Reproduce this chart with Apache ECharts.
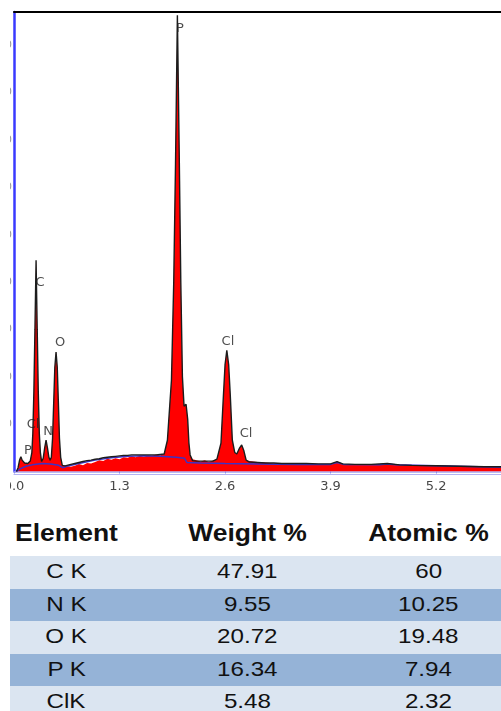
<!DOCTYPE html>
<html>
<head>
<meta charset="utf-8">
<script src="https://cdn.jsdelivr.net/npm/echarts@6/dist/echarts.min.js"></script>
<style>
  html, body { margin: 0; padding: 0; background: #fff; }
  body { width: 501px; height: 711px; position: relative; overflow: hidden; }
  #chart { position: absolute; left: 0; top: 0; width: 501px; height: 500px; clip-path: inset(0 0 0 10px); }
  .cell { position: absolute; white-space: nowrap; font-family: "Liberation Sans", Arial, sans-serif; color: #111; }
  .cell span { display: inline-block; }
  .band { position: absolute; left: 10px; width: 491px; }
</style>
</head>
<body>
<div id="chart"></div>
<div id="table"></div>
<script>
// EDS spectrum, energy in keV, intensity in counts
const energy = [0.03, 0.05, 0.07, 0.085, 0.10, 0.13, 0.17, 0.20,
  0.22, 0.232, 0.245, 0.258, 0.272, 0.286, 0.299, 0.312, 0.325, 0.34,
  0.36, 0.378, 0.395, 0.412, 0.43, 0.445,
  0.46, 0.475, 0.49, 0.503, 0.518, 0.533, 0.546, 0.56, 0.575, 0.595, 0.63,
  0.70, 0.75, 0.80, 0.85, 0.90, 0.95, 1.00, 1.05, 1.10, 1.15, 1.20, 1.25, 1.30,
  1.35, 1.40, 1.45, 1.50, 1.55, 1.60, 1.65, 1.70, 1.75, 1.80, 1.85,
  1.89, 1.94, 1.968, 1.99, 2.013, 2.035, 2.055, 2.075, 2.095, 2.12, 2.14, 2.155, 2.17,
  2.20, 2.25, 2.30, 2.35, 2.40, 2.45,
  2.50, 2.55, 2.58, 2.60, 2.622, 2.645, 2.665, 2.69, 2.72, 2.745, 2.78, 2.805, 2.83, 2.86,
  2.90, 3.00, 3.10, 3.20, 3.30, 3.45, 3.60, 3.75, 3.90, 3.98, 4.05, 4.20, 4.40, 4.60,
  4.75, 4.90, 5.20, 5.50, 5.80, 6.00];

// measured spectrum (red fill)
const spectrum = [0, 8, 25, 31, 24, 18, 17, 22,
  40, 80, 170, 300, 446, 300, 170, 80, 40, 21,
  28, 50, 66, 50, 30, 24,
  30, 70, 150, 220, 252, 220, 150, 70, 30, 13, 12,
  10, 12, 16, 13, 18, 17, 20, 24, 22, 27, 25, 28, 26,
  30, 29, 32, 30, 33, 31, 34, 33, 36, 34, 37,
  66, 193, 400, 650, 963, 680, 400, 200, 138, 142, 110, 60, 35,
  26, 24, 21, 24, 20, 23,
  26, 60, 160, 225, 256, 225, 160, 66, 40, 37, 50, 56, 45, 24,
  22, 20, 19, 17, 18, 16, 17, 16, 16, 19, 16, 15, 14, 16,
  14, 13, 12, 11, 10, 10];

// fitted envelope (black outline)
const fitted = [0, 8, 25, 31, 24, 18, 17, 22,
  40, 80, 170, 300, 446, 300, 170, 80, 40, 21,
  28, 50, 66, 50, 30, 24,
  30, 70, 150, 220, 252, 220, 150, 70, 30, 13, 12,
  15, 17, 19, 21, 23, 24, 26, 27, 29, 30, 31, 32, 33,
  34, 34, 35, 35, 35, 35, 35, 35, 35, 36, 37,
  66, 193, 400, 650, 963, 680, 400, 200, 138, 142, 110, 60, 35,
  23, 22, 22, 22, 22, 22,
  26, 60, 160, 225, 256, 225, 160, 66, 40, 37, 50, 56, 45, 24,
  20, 19, 18, 18, 17, 17, 17, 16, 16, 21, 16, 15, 15, 17,
  14, 13, 12, 11, 10, 10];

// continuum background (blue line)
const bgEnergy = [0.03, 0.08, 0.15, 0.25, 0.35, 0.45, 0.55, 0.60, 0.65, 0.80, 1.00, 1.20, 1.40,
  1.60, 1.80, 2.00, 2.10, 2.13, 2.30, 2.60, 3.00, 3.50, 3.90, 3.98, 4.06, 4.50, 4.60, 4.70, 5.20, 6.00];
const bgCounts = [0, 6, 11, 15, 17, 16, 13, 8, 11, 17, 24, 29, 32,
  33, 32, 30, 28, 19, 18, 17, 16, 15, 15, 19, 15, 14, 16, 14, 12, 9];

// element line labels
const lineLabels = ['P', 'C', 'O', 'Cl', 'Cl', 'Cl', 'N', 'P'];
const lineLabelEnergy = [2.045, 0.32, 0.567, 2.636, 2.858, 0.234, 0.419, 0.172];
const lineLabelCounts = [934, 398, 271, 275, 79, 100, 85, 45];

// element marker bands
const markerBands = [[0.23, 0.36], [0.46, 0.56]];
const markerBandTop = 125;

// quantification table
const tableHeader = ['Element', 'Weight %', 'Atomic %'];
const elements = ['C K', 'N K', 'O K', 'P K', 'ClK'];
const weightPct = ['47.91', '9.55', '20.72', '16.34', '5.48'];
const atomicPct = ['60', '10.25', '19.48', '7.94', '2.32'];

const chart = echarts.init(document.getElementById('chart'), null, { renderer: 'canvas' });

const pairs = (xs, ys) => xs.map((x, i) => [x, ys[i]]);

chart.setOption({
  animation: false,
  grid: { left: 14, right: 0, top: 12, bottom: 28.5, containLabel: false, outerBoundsMode: 'none' },
  xAxis: [
    {
      type: 'value', min: 0, max: 6, interval: 1.3, position: 'bottom',
      axisLine: { lineStyle: { color: '#a6a6f2', width: 1.5 } },
      axisTick: { length: 2, lineStyle: { color: '#8a8aee' } },
      axisLabel: {
        color: '#484848', fontSize: 13, fontFamily: 'DejaVu Sans', margin: 9,
        showMaxLabel: false, formatter: v => v.toFixed(1)
      },
      splitLine: { show: false }
    },
    {
      type: 'value', min: 0, max: 6, position: 'bottom', offset: 3,
      axisLine: { lineStyle: { color: '#b4b4f4', width: 1.2 } },
      axisTick: { show: false }, axisLabel: { show: false }, splitLine: { show: false }
    },
    {
      type: 'value', min: 0, max: 6, position: 'top',
      axisLine: { lineStyle: { color: '#000', width: 2 } },
      axisTick: { show: false }, axisLabel: { show: false }, splitLine: { show: false }
    }
  ],
  yAxis: {
    type: 'value', min: 0, max: 970, interval: 100,
    axisLine: { show: true, lineStyle: { color: '#3a3aff', width: 2.5 } },
    axisTick: { show: false },
    axisLabel: {
      color: '#999', fontSize: 11, fontFamily: 'DejaVu Sans', margin: 2,
      showMinLabel: false, showMaxLabel: false, padding: [8, 0, 0, 0]
    },
    splitLine: { show: false }
  },
  series: [
    {
      name: 'spectrum', type: 'line', z: 1, silent: true,
      data: pairs(energy, spectrum), showSymbol: false,
      lineStyle: { width: 0, opacity: 0 },
      areaStyle: { color: '#ff0000', opacity: 1 }
    },
    {
      name: 'background', type: 'line', z: 3, silent: true,
      data: pairs(bgEnergy, bgCounts), showSymbol: false,
      lineStyle: { color: '#3b32c6', width: 1.5 },
      markArea: {
        silent: true,
        itemStyle: { color: 'rgba(255,255,255,0.5)' },
        data: markerBands.map(b => [{ xAxis: b[0], yAxis: 12 }, { xAxis: b[1], yAxis: markerBandTop }])
      }
    },
    {
      name: 'fit', type: 'line', z: 4, silent: true,
      data: pairs(energy, fitted), showSymbol: false,
      lineStyle: { color: '#1c1c1c', width: 1.4 }
    },
    {
      name: 'lines', type: 'scatter', z: 5, silent: true, symbolSize: 0,
      data: lineLabelEnergy.map((e, i) => [e, lineLabelCounts[i], lineLabels[i]]),
      label: {
        show: true, position: 'inside', formatter: p => p.data[2],
        color: '#222', fontSize: 13, fontFamily: 'DejaVu Sans'
      }
    }
  ]
});

// quantification table
const table = document.getElementById('table');
const colCenters = [66, 247, 428];
const headerTop = 513, headerH = 41, rowH = 32.6;
const rowColors = ['#dbe5f1', '#95b3d7'];

function addCell(text, cx, top, h, size, bold, alignLeft) {
  const d = document.createElement('div');
  d.className = 'cell';
  d.style.top = top + 'px';
  d.style.height = h + 'px';
  d.style.lineHeight = h + 'px';
  d.style.fontSize = size + 'px';
  d.style.fontWeight = bold ? 'bold' : 'normal';
  const s = document.createElement('span');
  s.textContent = text;
  s.style.transform = 'scaleX(1.15)';
  s.style.transformOrigin = alignLeft ? 'left center' : 'center center';
  d.appendChild(s);
  table.appendChild(d);
  if (alignLeft) {
    d.style.left = cx + 'px';
  } else {
    d.style.left = (cx - d.offsetWidth / 2) + 'px';
  }
}

tableHeader.forEach((t, i) => addCell(t, i === 0 ? 15 : colCenters[i], headerTop, headerH, 23, true, i === 0));

elements.forEach((el, r) => {
  const top = 556 + r * rowH;
  const band = document.createElement('div');
  band.className = 'band';
  band.style.top = top + 'px';
  band.style.height = (rowH + 0.5) + 'px';
  band.style.background = rowColors[r % 2];
  table.appendChild(band);
  addCell(el, colCenters[0], top - 1, rowH, 21, false, false);
  addCell(weightPct[r], colCenters[1], top - 1, rowH, 21, false, false);
  addCell(atomicPct[r], colCenters[2], top - 1, rowH, 21, false, false);
});
</script>
</body>
</html>
